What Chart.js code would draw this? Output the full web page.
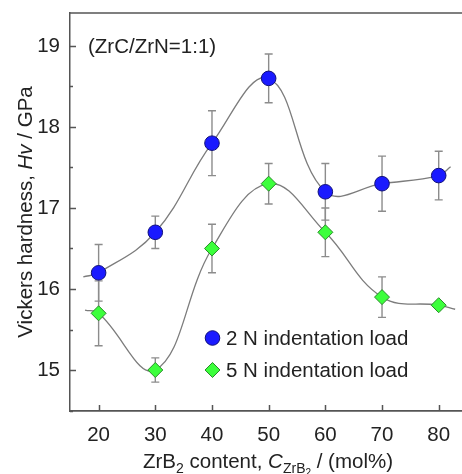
<!DOCTYPE html>
<html>
<head>
<meta charset="utf-8">
<script src="https://cdn.jsdelivr.net/npm/chart.js@4.4.1/dist/chart.umd.min.js"></script>
<style>
  html, body { margin: 0; padding: 0; background: #fff; overflow: hidden; }
  #wrap { width: 462px; height: 474px; }
</style>
</head>
<body>
<div id="wrap"><canvas id="chart"></canvas></div>
<script>
// measured points
const xValues = [20, 30, 40, 50, 60, 70, 80];
const hv2N = [16.2, 16.7, 17.8, 18.6, 17.2, 17.3, 17.4];
const err2N = [0.35, 0.2, 0.4, 0.3, 0.35, 0.34, 0.3];
const hv5N = [15.7, 15.0, 16.5, 17.3, 16.7, 15.9, 15.8];
const err5N = [0.4, 0.15, 0.3, 0.25, 0.3, 0.25, 0];

// fitted curves (they run a little past the data)
const fit2NX = [17.3, 20, 30, 40, 50, 60, 70, 80, 82.1];
const fit2NY = [16.15, 16.2, 16.7, 17.8, 18.6, 17.2, 17.3, 17.4, 17.51];
const fit5NX = [17.6, 20, 30, 40, 50, 60, 70, 80, 82.9];
const fit5NY = [15.74, 15.7, 15.0, 16.5, 17.3, 16.7, 15.9, 15.8, 15.75];

const xTicks = [20, 30, 40, 50, 60, 70, 80];
const yTicks = [15, 16, 17, 18, 19];
const yMinorTicks = [14.5, 15.5, 16.5, 17.5, 18.5];

const FONT = '"Liberation Sans", Arial, Helvetica, sans-serif';
const TEXT = '#222';
const AXIS = '#555';
const BLUE = '#1a1aff', BLUE_EDGE = '#10107a';
const GREEN = '#3cff3c', GREEN_EDGE = '#2a8a2a';

const toXY = (xs, ys) => xs.map((x, i) => ({ x: x, y: ys[i] }));

function drawCircle(ctx, x, y, r) {
    ctx.beginPath();
    ctx.arc(x, y, r, 0, Math.PI * 2);
    ctx.fillStyle = BLUE; ctx.fill();
    ctx.lineWidth = 1; ctx.strokeStyle = BLUE_EDGE; ctx.stroke();
}
function drawDiamond(ctx, x, y, r) {
    ctx.beginPath();
    ctx.moveTo(x, y - r); ctx.lineTo(x + r, y); ctx.lineTo(x, y + r); ctx.lineTo(x - r, y);
    ctx.closePath();
    ctx.fillStyle = GREEN; ctx.fill();
    ctx.lineWidth = 1; ctx.strokeStyle = GREEN_EDGE; ctx.stroke();
}

// draws runs of text with their own font and baseline shift
function drawRuns(ctx, runs, x, y) {
    let cx = x;
    runs.forEach(r => {
        ctx.font = r.font;
        ctx.fillText(r.t, cx, y + (r.dy || 0));
        cx += ctx.measureText(r.t).width;
    });
}
function runsWidth(ctx, runs) {
    let w = 0;
    runs.forEach(r => { ctx.font = r.font; w += ctx.measureText(r.t).width; });
    return w;
}

// no extra room for edge labels, the plot box is fixed
function noPadding(s) {
    s.paddingLeft = 0; s.paddingRight = 0; s.paddingTop = 0; s.paddingBottom = 0;
}

const extras = {
    id: 'extras',
    afterLayout(chart) {
        // the plot box runs off the right edge of the picture
        const a = chart.chartArea, s = chart.scales.x;
        a.right = chart.width; a.width = a.right - a.left;
        s.right = chart.width; s.width = s.right - s.left;
        s.configure();
    },
    beforeDatasetsDraw(chart) {
        const { ctx, scales: { x, y } } = chart;
        // error bars
        ctx.save();
        ctx.strokeStyle = '#8c8c8c';
        ctx.lineWidth = 1.4;
        const bars = (vals, errs) => vals.forEach((v, i) => {
            if (!errs[i]) return;
            const px = x.getPixelForValue(xValues[i]);
            const top = y.getPixelForValue(v + errs[i]);
            const bot = y.getPixelForValue(v - errs[i]);
            ctx.beginPath();
            ctx.moveTo(px, top); ctx.lineTo(px, bot);
            ctx.moveTo(px - 4, top); ctx.lineTo(px + 4, top);
            ctx.moveTo(px - 4, bot); ctx.lineTo(px + 4, bot);
            ctx.stroke();
        });
        bars(hv2N, err2N);
        bars(hv5N, err5N);
        ctx.restore();
    },
    afterDraw(chart) {
        const { ctx, chartArea: a, scales: { x, y } } = chart;
        ctx.save();
        // frame: top line and inward ticks
        ctx.strokeStyle = AXIS;
        ctx.lineWidth = 1.5;
        ctx.beginPath();
        ctx.moveTo(a.left, a.top); ctx.lineTo(a.right, a.top);
        ctx.stroke();
        ctx.beginPath();
        xTicks.forEach(v => {
            const px = Math.round(x.getPixelForValue(v)) + 0.5;
            ctx.moveTo(px, a.bottom); ctx.lineTo(px, a.bottom - 6);
        });
        yTicks.forEach(v => {
            const py = Math.round(y.getPixelForValue(v)) + 0.5;
            ctx.moveTo(a.left, py); ctx.lineTo(a.left + 6, py);
        });
        yMinorTicks.forEach(v => {
            const py = Math.round(y.getPixelForValue(v)) + 0.5;
            ctx.moveTo(a.left, py); ctx.lineTo(a.left + 3, py);
        });
        ctx.stroke();

        // legend
        drawCircle(ctx, 212.5, 338, 7.3);
        drawDiamond(ctx, 212.5, 370, 7.5);
        ctx.fillStyle = TEXT;
        ctx.textBaseline = 'middle';
        ctx.textAlign = 'left';
        ctx.font = '20.5px ' + FONT;
        ctx.fillText('2 N indentation load', 226, 339);
        ctx.fillText('5 N indentation load', 226, 371);

        // note
        ctx.fillText('(ZrC/ZrN=1:1)', 88, 47);

        // x title with subscripts
        ctx.textBaseline = 'alphabetic';
        const f = '20.5px ' + FONT, fi = 'italic 20.5px ' + FONT;
        const fs = '14px ' + FONT, fss = '10px ' + FONT;
        const xRuns = [
            { t: 'ZrB', font: f }, { t: '2', font: fs, dy: 5 },
            { t: ' content, ', font: f }, { t: 'C', font: fi },
            { t: 'ZrB', font: fs, dy: 5 }, { t: '2', font: fss, dy: 8 },
            { t: ' / (mol%)', font: f }
        ];
        const xw = runsWidth(ctx, xRuns);
        drawRuns(ctx, xRuns, 268 - xw / 2, 467.5);

        // y title, rotated
        const yRuns = [
            { t: 'Vickers hardness, ', font: f }, { t: 'Hv', font: fi },
            { t: ' / GPa', font: f }
        ];
        const yw = runsWidth(ctx, yRuns);
        ctx.translate(32, 212);
        ctx.rotate(-Math.PI / 2);
        drawRuns(ctx, yRuns, -yw / 2, 0);
        ctx.restore();
    }
};

new Chart(document.getElementById('chart'), {
    type: 'scatter',
    data: {
        datasets: [
            {
                label: '2 N fit', type: 'line', data: toXY(fit2NX, fit2NY),
                borderColor: '#7c7c7c', borderWidth: 1.3, pointRadius: 0,
                tension: 0.4, fill: false, order: 3
            },
            {
                label: '5 N fit', type: 'line', data: toXY(fit5NX, fit5NY),
                borderColor: '#7c7c7c', borderWidth: 1.3, pointRadius: 0,
                tension: 0.4, fill: false, order: 3
            },
            {
                label: '2 N indentation load', data: toXY(xValues, hv2N),
                pointStyle: 'circle', pointRadius: 7.3,
                backgroundColor: BLUE, borderColor: BLUE_EDGE, borderWidth: 1, order: 1
            },
            {
                label: '5 N indentation load', data: toXY(xValues, hv5N),
                pointStyle: 'rectRot', pointRadius: 7.5,
                backgroundColor: GREEN, borderColor: GREEN_EDGE, borderWidth: 1, order: 1
            }
        ]
    },
    options: {
        responsive: true,
        maintainAspectRatio: false,
        animation: false,
        layout: { padding: { top: 13, left: 0, right: 0, bottom: 0 } },
        plugins: { legend: { display: false }, tooltip: { enabled: false } },
        scales: {
            x: {
                type: 'linear', min: 14.95, max: 84.11,
                afterBuildTicks: s => { s.ticks = xTicks.map(v => ({ value: v })); },
                afterFit: s => { s.height = 63; noPadding(s); },
                grid: { display: false, drawTicks: false },
                border: { display: true, color: AXIS, width: 1.8 },
                ticks: { font: { family: FONT, size: 20.5 }, color: TEXT, padding: 12, maxRotation: 0 }
            },
            y: {
                type: 'linear', min: 14.494, max: 19.407,
                afterBuildTicks: s => { s.ticks = yTicks.map(v => ({ value: v })); },
                afterFit: s => { s.width = 70; noPadding(s); },
                grid: { display: false, drawTicks: false },
                border: { display: true, color: AXIS, width: 1.5 },
                ticks: { font: { family: FONT, size: 20.5 }, color: TEXT, padding: 10 }
            }
        }
    },
    plugins: [extras]
});
</script>
</body>
</html>
